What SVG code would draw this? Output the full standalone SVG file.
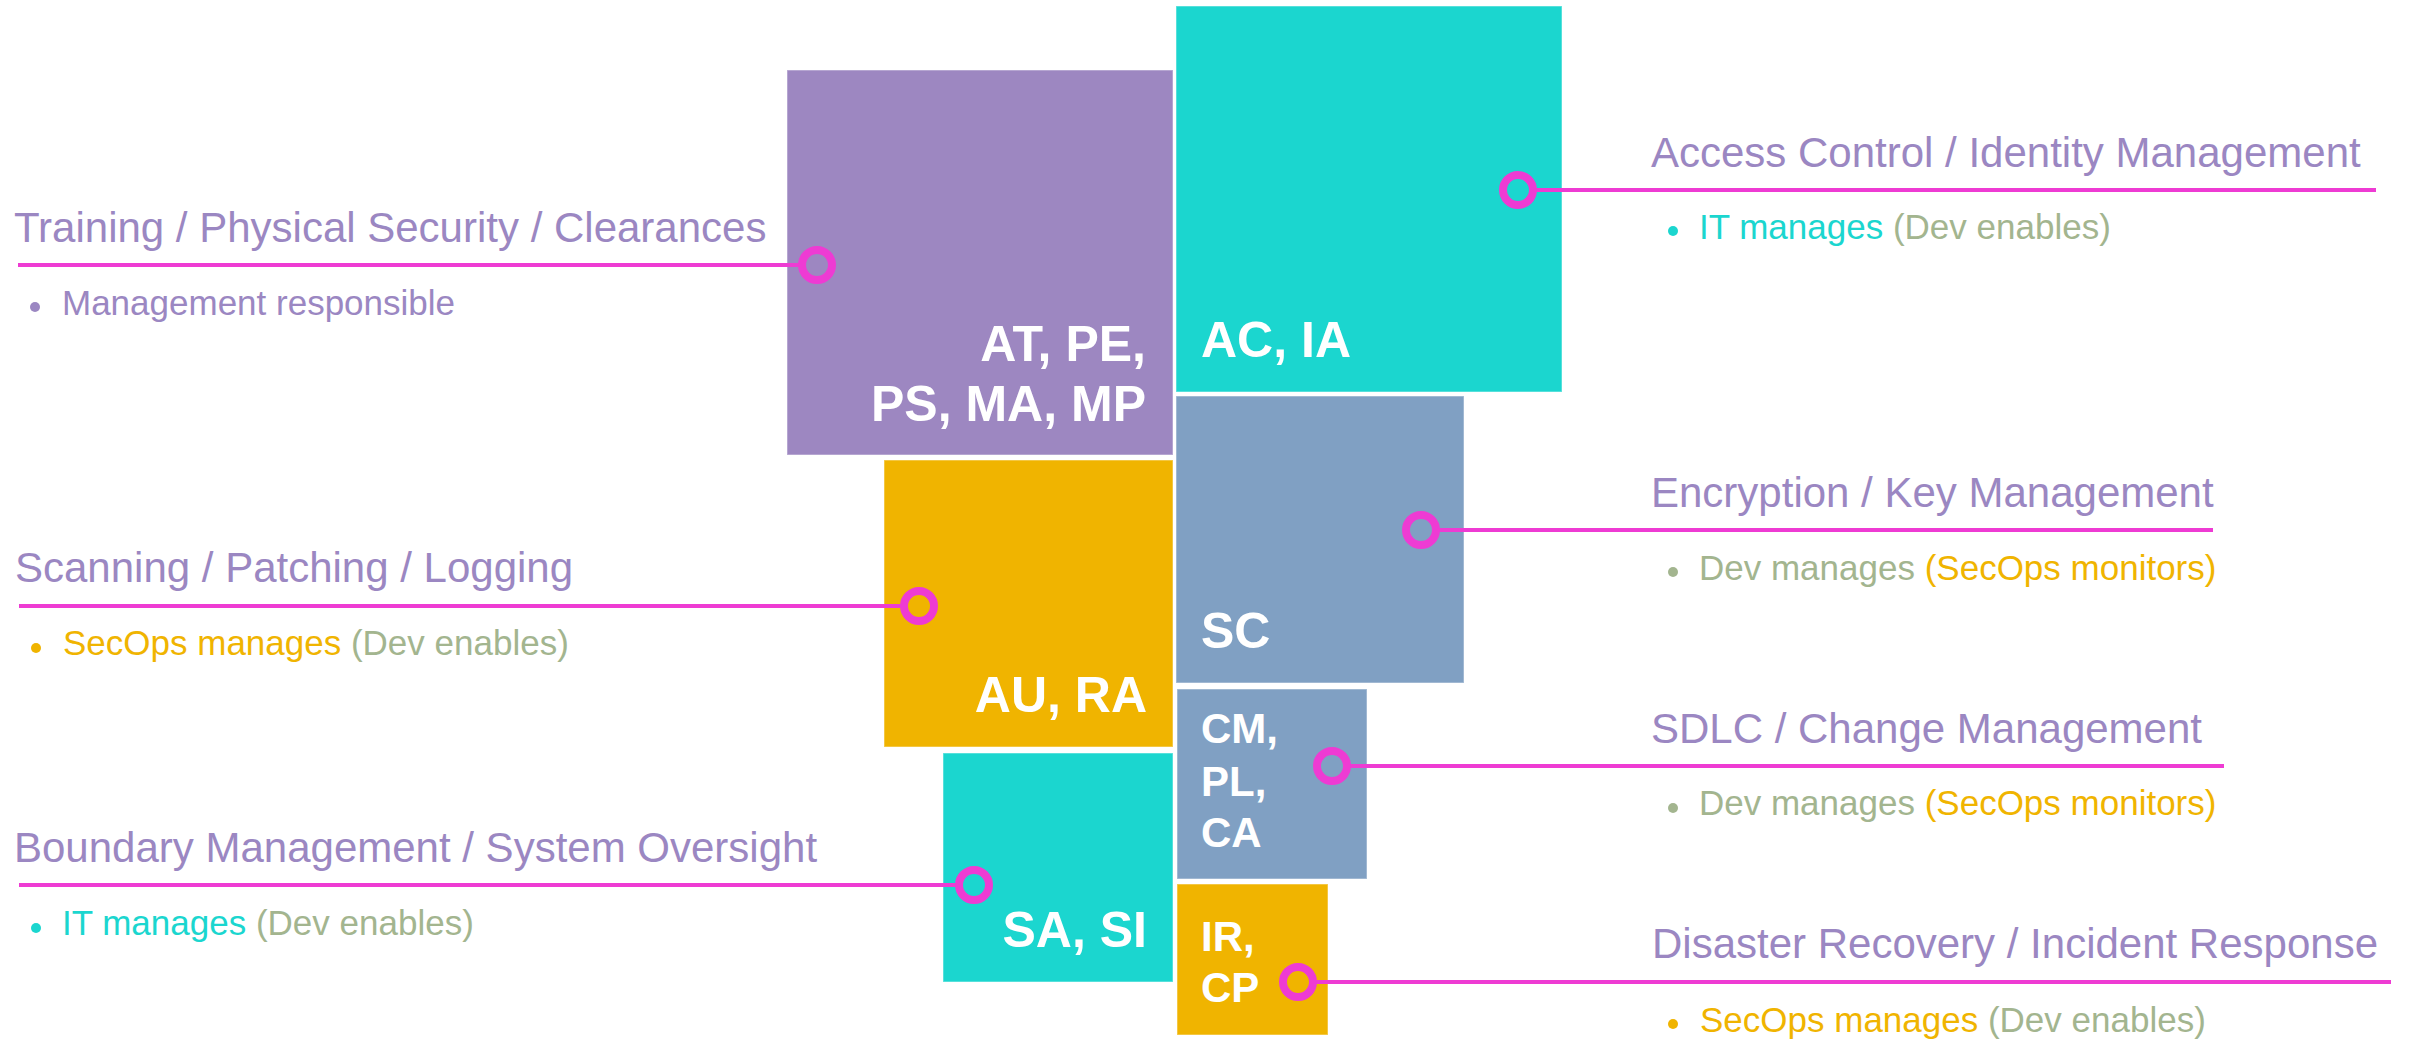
<svg xmlns="http://www.w3.org/2000/svg" width="2417" height="1040" viewBox="0 0 2417 1040">
<defs>
<style>
.box{stroke:#ffffff;stroke-opacity:0.35;stroke-width:1.5}
.purple{fill:#9D87C1}
.teal{fill:#1BD6CF}
.slate{fill:#80A0C3}
.gold{fill:#F0B400}
.lbl{font-family:"Liberation Sans",Arial,sans-serif;font-weight:bold;fill:#ffffff}
.big{font-size:50px}
.mid{font-size:42px}
.title{font-family:"Liberation Sans",Arial,sans-serif;font-size:42px;fill:#9B87C2}
.sub{font-family:"Liberation Sans",Arial,sans-serif;font-size:35px}
.c-teal{fill:#1BD6CF}
.c-sage{fill:#A3B58F}
.c-gold{fill:#F0B400}
.c-purple{fill:#9B87C2}
.conn line{stroke:#EE3BD3;stroke-width:4}
.conn circle{fill:none;stroke:#EE3BD3;stroke-width:8}
</style>
</defs>
<rect width="2417" height="1040" fill="#ffffff"/>

<g id="node-at-pe">
<rect class="box purple" x="787" y="70" width="386" height="385"/>
<text class="lbl big" x="1146" y="361" text-anchor="end">AT, PE,</text>
<text class="lbl big" x="1146" y="421" text-anchor="end">PS, MA, MP</text>
</g>
<g id="node-ac-ia">
<rect class="box teal" x="1176" y="6" width="386" height="386"/>
<text class="lbl big" x="1201" y="357">AC, IA</text>
</g>
<g id="node-sc">
<rect class="box slate" x="1176" y="396" width="288" height="287"/>
<text class="lbl big" x="1201" y="648">SC</text>
</g>
<g id="node-au-ra">
<rect class="box gold" x="884" y="460" width="289" height="287"/>
<text class="lbl big" x="1147" y="712" text-anchor="end">AU, RA</text>
</g>
<g id="node-cm-pl-ca">
<rect class="box slate" x="1177" y="689" width="190" height="190"/>
<text class="lbl mid" x="1201" y="743">CM,</text>
<text class="lbl mid" x="1201" y="796">PL,</text>
<text class="lbl mid" x="1201" y="847">CA</text>
</g>
<g id="node-sa-si">
<rect class="box teal" x="943" y="753" width="230" height="229"/>
<text class="lbl big" x="1147" y="947" text-anchor="end">SA, SI</text>
</g>
<g id="node-ir-cp">
<rect class="box gold" x="1177" y="884" width="151" height="151"/>
<text class="lbl mid" x="1201" y="951">IR,</text>
<text class="lbl mid" x="1201" y="1002">CP</text>
</g>

<g id="connectors" class="conn">
<line x1="1533" y1="190" x2="2376" y2="190"/>
<circle cx="1518" cy="190" r="15"/>
<line x1="1436" y1="530" x2="2213" y2="530"/>
<circle cx="1421" cy="530" r="15"/>
<line x1="1347" y1="766" x2="2224" y2="766"/>
<circle cx="1332" cy="766" r="15"/>
<line x1="1313" y1="982" x2="2391" y2="982"/>
<circle cx="1298" cy="982" r="15"/>
<line x1="18" y1="265" x2="802" y2="265"/>
<circle cx="817" cy="265" r="15"/>
<line x1="19" y1="606" x2="904" y2="606"/>
<circle cx="919" cy="606" r="15"/>
<line x1="19" y1="885" x2="959" y2="885"/>
<circle cx="974" cy="885" r="15"/>
</g>

<g id="label-access">
<text class="title" x="1651" y="167">Access Control / Identity Management</text>
<circle class="c-teal" cx="1673" cy="231" r="5"/>
<text class="sub" x="1699" y="239"><tspan class="c-teal">IT manages </tspan><tspan class="c-sage">(Dev enables)</tspan></text>
</g>
<g id="label-encryption">
<text class="title" x="1651" y="507">Encryption / Key Management</text>
<circle class="c-sage" cx="1673" cy="572" r="5"/>
<text class="sub" x="1699" y="580"><tspan class="c-sage">Dev manages </tspan><tspan class="c-gold">(SecOps monitors)</tspan></text>
</g>
<g id="label-sdlc">
<text class="title" x="1651" y="743">SDLC / Change Management</text>
<circle class="c-sage" cx="1673" cy="808" r="5"/>
<text class="sub" x="1699" y="815"><tspan class="c-sage">Dev manages </tspan><tspan class="c-gold">(SecOps monitors)</tspan></text>
</g>
<g id="label-disaster">
<text class="title" x="1652" y="958">Disaster Recovery / Incident Response</text>
<circle class="c-gold" cx="1673" cy="1024" r="5"/>
<text class="sub" x="1700" y="1032"><tspan class="c-gold">SecOps manages </tspan><tspan class="c-sage">(Dev enables)</tspan></text>
</g>
<g id="label-training">
<text class="title" x="14" y="242">Training / Physical Security / Clearances</text>
<circle class="c-purple" cx="35" cy="307" r="5"/>
<text class="sub c-purple" x="62" y="315">Management responsible</text>
</g>
<g id="label-scanning">
<text class="title" x="15" y="582">Scanning / Patching / Logging</text>
<circle class="c-gold" cx="36" cy="648" r="5"/>
<text class="sub" x="63" y="655"><tspan class="c-gold">SecOps manages </tspan><tspan class="c-sage">(Dev enables)</tspan></text>
</g>
<g id="label-boundary">
<text class="title" x="14" y="862">Boundary Management / System Oversight</text>
<circle class="c-teal" cx="36" cy="928" r="5"/>
<text class="sub" x="62" y="935"><tspan class="c-teal">IT manages </tspan><tspan class="c-sage">(Dev enables)</tspan></text>
</g>
</svg>
